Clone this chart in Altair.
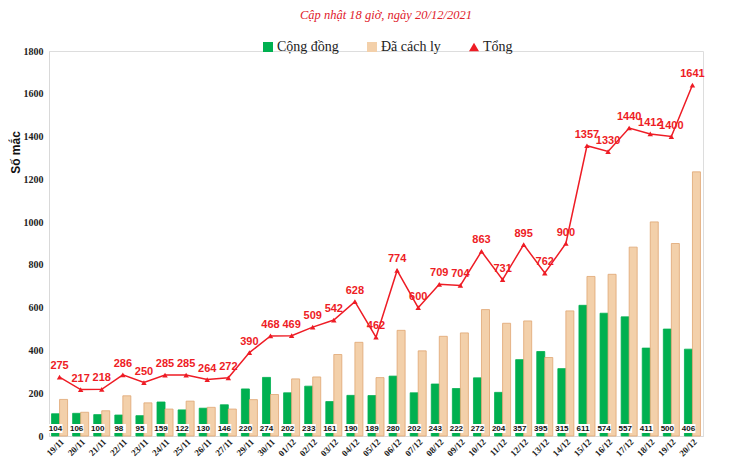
import altair as alt
import pandas as pd

dates = ["19/11", "20/11", "21/11", "22/11", "23/11", "24/11", "25/11", "26/11", "27/11",
         "29/11", "30/11", "01/12", "02/12", "03/12", "04/12", "05/12", "06/12", "07/12",
         "08/12", "09/12", "10/12", "11/12", "12/12", "13/12", "14/12", "15/12", "16/12",
         "17/12", "18/12", "19/12", "20/12"]
cong_dong = [104, 106, 100, 98, 95, 159, 122, 130, 146, 220, 274, 202, 233, 161, 190, 189,
             280, 202, 243, 222, 272, 204, 357, 395, 315, 611, 574, 557, 411, 500, 406]
da_cach_ly = [171, 111, 118, 188, 155, 126, 163, 134, 126, 170, 194, 267, 276, 381, 438, 273,
              494, 398, 466, 482, 591, 527, 538, 367, 585, 746, 756, 883, 1001, 900, 1235]
tong = [275, 217, 218, 286, 250, 285, 285, 264, 272, 390, 468, 469, 509, 542, 628, 462,
        774, 600, 709, 704, 863, 731, 895, 762, 900, 1357, 1330, 1440, 1412, 1400, 1641]
series = ["Cộng đồng", "Đã cách ly", "Tổng"]
y_ticks = [0, 200, 400, 600, 800, 1000, 1200, 1400, 1600, 1800]
subtitle = "Cập nhật 18 giờ, ngày 20/12/2021"

GREEN = "#00b050"
TAN = "#f3d0aa"
TAN_EDGE = "#e0a672"
RED = "#ee1c25"

bars_df = pd.DataFrame({
    "date": dates * 2,
    "series": [series[0]] * len(dates) + [series[1]] * len(dates),
    "value": cong_dong + da_cach_ly,
})
comm_df = pd.DataFrame({"date": dates, "series": series[0], "value": cong_dong})
tot_df = pd.DataFrame({"date": dates, "series": series[2], "value": tong})

x_enc = alt.X("date:N", sort=dates,
              scale=alt.Scale(paddingInner=0.24, paddingOuter=0.12),
              axis=alt.Axis(title=None, labelAngle=-45, labelFont="Liberation Serif",
                            labelFontWeight="bold", labelFontSize=9, labelColor="#222",
                            ticks=False, domainColor="#d9d9d9", labelPadding=1))
y_scale = alt.Scale(domain=[0, 1800], nice=False)
y_axis = alt.Axis(values=y_ticks, format="d", grid=False, ticks=False, domainColor="#d9d9d9",
                  labelFont="Liberation Serif", labelFontWeight="bold", labelFontSize=10,
                  labelColor="#222", labelPadding=6,
                  title="Số mắc", titleFont="Liberation Sans", titleFontSize=12,
                  titleFontWeight="bold", titleColor="#111", titleY=101, titleX=-34,
                  titleBaseline="middle", titleAngle=-90)
off_scale = alt.Scale(domain=series[:2], paddingInner=0, paddingOuter=0)

color_scale = alt.Scale(domain=series, range=[GREEN, TAN, RED])
shape_scale = alt.Scale(domain=series, range=["square", "square", "triangle-up"])
legend = alt.Legend(
    orient="none", legendX=212, legendY=-11, direction="horizontal", title=None,
    labelFont="Liberation Serif", labelFontSize=14, labelColor="#222",
    symbolSize=100, columnPadding=26, labelOffset=2, symbolStrokeWidth=0,
)

bars = alt.Chart(bars_df).mark_bar(strokeWidth=0.8).encode(
    x=x_enc,
    xOffset=alt.XOffset("series:N", scale=off_scale),
    y=alt.Y("value:Q", scale=y_scale, axis=y_axis),
    fill=alt.Fill("series:N", scale=color_scale, legend=legend),
    stroke=alt.Stroke("series:N", scale=alt.Scale(domain=series[:2], range=[GREEN, TAN_EDGE]),
                      legend=None),
)

label_box = alt.Chart(comm_df).mark_bar(width=14, color="white").encode(
    x=alt.X("date:N", sort=dates),
    xOffset=alt.XOffset("series:N", scale=off_scale),
    y=alt.datum(14),
    y2=alt.datum(56),
)

comm_text = alt.Chart(comm_df).mark_text(
    font="Liberation Sans", fontWeight="bold", fontSize=8, color="#111", baseline="middle"
).encode(
    x=alt.X("date:N", sort=dates),
    xOffset=alt.XOffset("series:N", scale=off_scale),
    y=alt.datum(35),
    text="value:Q",
)

line = alt.Chart(tot_df).mark_line(color=RED, strokeWidth=1.5).encode(
    x=alt.X("date:N", sort=dates),
    y=alt.Y("value:Q"),
)

pts = alt.Chart(tot_df).mark_point(filled=True, size=30, opacity=1).encode(
    x=alt.X("date:N", sort=dates),
    y=alt.Y("value:Q"),
    fill=alt.Fill("series:N", scale=color_scale, legend=legend),
    shape=alt.Shape("series:N", scale=shape_scale, legend=legend),
)

tot_text = alt.Chart(tot_df).mark_text(
    font="Liberation Sans", fontWeight="bold", fontSize=11, color=RED, dy=-11,
    baseline="middle"
).encode(
    x=alt.X("date:N", sort=dates),
    y=alt.Y("value:Q"),
    text="value:Q",
)

title_df = pd.DataFrame({"t": [subtitle]})
title_txt = alt.Chart(title_df).mark_text(
    font="Liberation Serif", fontStyle="italic", fontSize=12.5, color="#e0202a",
    baseline="middle", align="center"
).encode(x=alt.value(337), y=alt.value(-36), text="t:N")

chart = alt.layer(bars, label_box, comm_text, line, pts, tot_text, title_txt).properties(
    width=654, height=385,
    autosize=alt.AutoSizeParams(type="none"),
    padding={"left": 41, "top": 43, "right": 20, "bottom": 24},
).configure_view(stroke=None).configure(background="white")

chart.save("out.html", embed_options={"renderer": "svg", "actions": False})
